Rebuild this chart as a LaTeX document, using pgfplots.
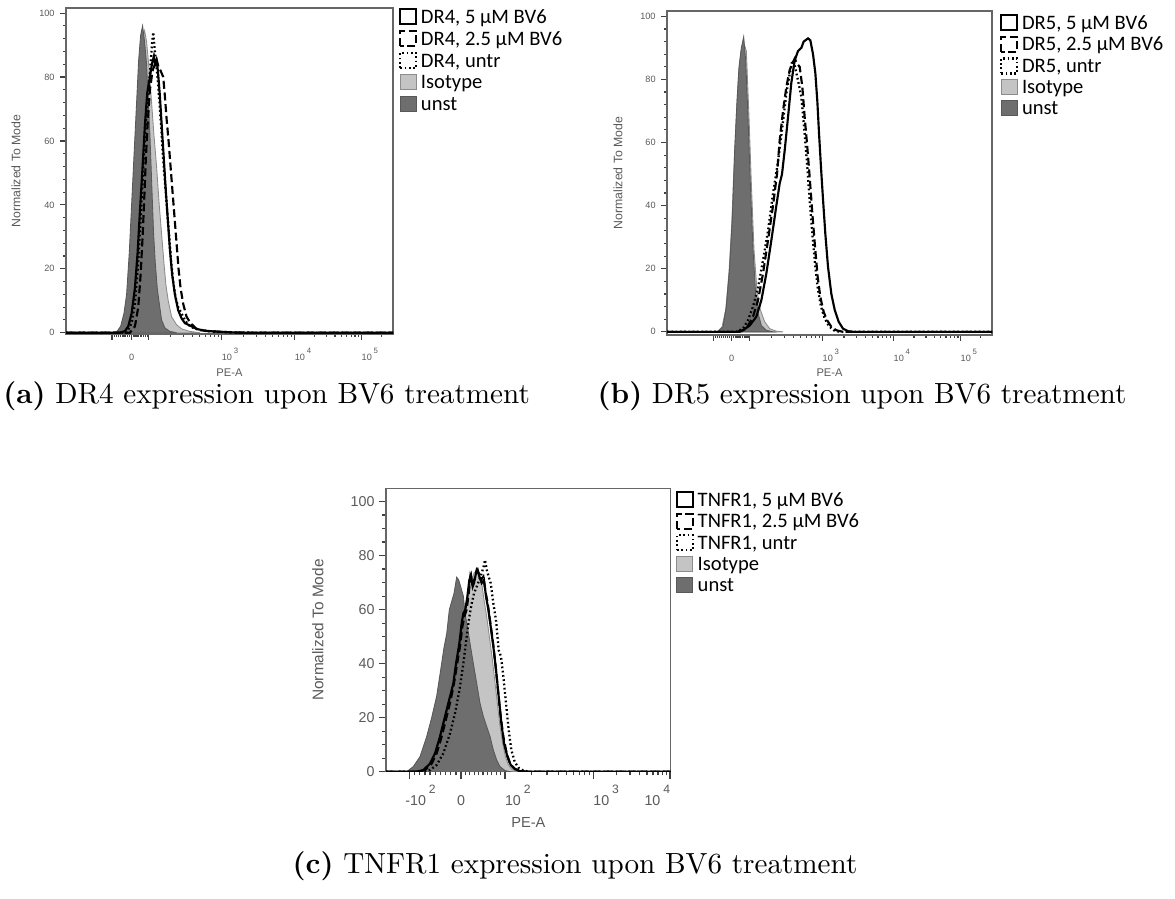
\documentclass[border=0pt]{standalone}
\usepackage{fontspec}
\usepackage{graphicx}
\usepackage{pgfplots}
\pgfplotsset{compat=1.18}
\newfontfamily\arial{Liberation Sans}
\newfontfamily\calibri{Carlito}
\definecolor{unstgray}{HTML}{6E6E6E}
\definecolor{isogray}{HTML}{C4C4C4}
\definecolor{isoedge}{HTML}{8C8C8C}
\definecolor{labgray}{HTML}{5A5A5A}

% decade labels as drawn by the cytometry software
\newcommand{\dec}[1]{\makebox[0pt][l]{10\hspace{0.2em}\raisebox{0.8em}{\scalebox{0.85}{#1}}}}
\newcommand{\decr}[1]{\makebox[0pt][r]{10\hspace{0.2em}\raisebox{0.8em}{\scalebox{0.85}{#1}}}}
\newcommand{\negdec}[1]{\makebox[0pt][l]{\hspace{-1.4pt}-10\hspace{0.2em}\raisebox{0.8em}{\scalebox{0.85}{#1}}}}

\tikzset{
  solidl/.style={black, line width=0.75pt},
  dashl/.style={black, line width=0.75pt, dash pattern=on 2.8pt off 1.3pt},
  dotl/.style={black, line width=0.8pt, dash pattern=on 0.6pt off 0.9pt},
  isof/.style={fill=isogray, draw=isoedge, line width=0.3pt},
  unstf/.style={fill=unstgray, draw=unstgray!80!black, line width=0.3pt},
}

\pgfplotsset{
  facs/.style={
    scale only axis,
    tick align=outside, xtick pos=bottom, ytick pos=left,
    axis line style={draw=black!60, line width=0.45pt},
    tick style={draw=black!75, line width=0.4pt},
    ytick={0,20,40,60,80,100},
    /pgf/number format/assume math mode=true,
    legend image code/.code={\draw[##1] (0pt,-2.2pt) rectangle (5.6pt,3.05pt);},
    legend cell align=left,
    legend style={draw=none, fill=none, inner sep=0pt, outer sep=0pt,
      anchor=north west, row sep=0.95pt, column sep=1.3pt,
      font=\calibri\fontsize{7.2}{8}\selectfont,
      nodes={inner sep=0pt, text height=5.2pt, text depth=1.4pt}},
  },
  smallfacs/.style={
    facs,
    major tick length=2pt, minor tick length=1pt,
    minor y tick num=4,
    yticklabel style={font=\arial\fontsize{3.2}{3.8}\selectfont, text=labgray, inner sep=0pt, anchor=east, xshift=-1.8pt},
    xticklabel style={font=\arial\fontsize{3.2}{3.8}\selectfont, text=labgray, inner sep=0pt, anchor=base, yshift=-7.3pt},
    xlabel style={font=\arial\fontsize{3.9}{4.5}\selectfont, text=labgray, anchor=center},
    ylabel style={font=\arial\fontsize{4.3}{5}\selectfont, text=labgray, anchor=center},
  },
}

\begin{document}
\begin{tikzpicture}
\useasboundingbox (0pt,0pt) rectangle (411.25pt,314.65pt);
\clip (0pt,0pt) rectangle (411.25pt,314.65pt);

% ---------------- (a) DR4 ----------------
\begin{axis}[smallfacs,
  at={(23.1pt,311.85pt)}, anchor=north west,
  width=114.45pt, height=114.1pt,
  xmin=0, xmax=982, ymin=-0.4, ymax=101.6,
  xtick={138,197,249,468,687,888},
  xticklabels={,0,,\dec{3},\dec{4},\dec{5}},
  minor xtick={145,151,158,164,171,177,184,190,202,207,213,218,223,228,233,239,244,315,353,381,402,419,434,447,458,534,572,600,621,638,653,666,677,747,783,808,827,843,857,868,879,948},
  xlabel={PE-A}, ylabel={Normalized To Mode},
  xlabel style={at={(axis description cs:0.5,-0.12)}},
  ylabel style={at={(axis description cs:-0.153,0.5)}},
  legend style={at={(axis description cs:1.0183,1.0)}},
]
\addplot[isof, forget plot] coordinates {(147,0) (160,0.5) (170,2) (180,6) (188,13) (196,27) (203,42) (210,57) (218,74) (224,85) (230,92) (236,94.5) (242,91) (250,82) (257,72) (264,62) (272,52) (280,40) (287,31) (294,22) (300,15) (307,10) (317,5) (332,2.5) (347,1.2) (372,0.4) (402,0)} \closedcycle;
\addplot[unstf, forget plot] coordinates {(142,0) (154,0.5) (164,2) (174,6) (182,12) (190,25) (197,40) (204,55) (212,72) (218,85) (224,93) (230,96) (236,91) (242,84) (246,75) (252,62) (258,45) (263,31) (268,22) (274,14) (279,10) (287,4) (297,1.5) (312,0.4) (332,0)} \closedcycle;
\addplot[dotl, forget plot] coordinates {(0,0) (182,0) (197,3) (207,9) (217,22) (225,37) (232,52) (240,66) (248,76) (254,84) (258,90) (262,94) (266,89) (270,85) (275,80) (280,73) (286,64) (292,54) (298,46) (304,38) (310,30) (316,22) (322,16) (329,11) (337,8) (347,6) (357,4) (367,2.5) (382,1.5) (402,0.8) (442,0.3) (502,0.1) (562,0) (982,0)};
\addplot[dashl, forget plot] coordinates {(0,0) (192,0) (207,2) (217,8) (224,18) (230,30) (235,42) (240,55) (245,65) (252,76) (260,82) (267,84) (272,85.5) (278,83) (284,82) (292,80) (297,74) (302,67) (308,60) (314,52) (320,44) (326,36) (332,28) (338,20) (344,14) (352,9) (362,5) (374,3) (392,1.2) (422,0.5) (502,0.1) (552,0) (982,0)};
\addplot[solidl, forget plot] coordinates {(0,0) (162,0) (177,0.5) (187,2) (197,6) (207,14) (215,25) (222,38) (230,52) (237,65) (244,75) (252,80) (258,84) (264,86.5) (268,84) (272,85) (276,82) (282,74) (288,64) (294,54) (300,44) (306,35) (312,26) (319,18) (327,12) (337,7) (347,4.5) (357,3) (367,2.5) (377,2) (392,1.2) (412,0.7) (442,0.4) (482,0.2) (522,0) (982,0)};
\addlegendimage{solidl}\addlegendentry{DR4, 5 µM BV6}
\addlegendimage{dashl}\addlegendentry{DR4, 2.5 µM BV6}
\addlegendimage{dotl}\addlegendentry{DR4, untr}
\addlegendimage{isof}\addlegendentry{Isotype}
\addlegendimage{unstf}\addlegendentry{unst}
\end{axis}

% ---------------- (b) DR5 ----------------
\begin{axis}[smallfacs,
  at={(233.45pt,310.8pt)}, anchor=north west,
  width=113.75pt, height=113.4pt,
  xmin=0, xmax=975, ymin=-1, ymax=101.7,
  xtick={140,194,248,467,680,881},
  xticklabels={,0,,\dec{3},\dec{4},\dec{5}},
  minor xtick={146,152,158,164,170,176,182,188,199,205,210,216,221,226,232,237,243,314,352,380,401,418,433,446,457,531,569,595,616,633,647,659,670,741,777,802,821,837,851,862,873,941},
  xlabel={PE-A}, ylabel={Normalized To Mode},
  xlabel style={at={(axis description cs:0.5,-0.117)}},
  ylabel style={at={(axis description cs:-0.151,0.5)}},
  legend style={at={(axis description cs:1.0246,0.99)}, row sep=0.8pt},
]
\addplot[isof, forget plot] coordinates {(150,0) (165,1.5) (176,7) (186,19) (194,34) (202,55) (209,71) (215,82) (222,89) (229,92) (238,89) (246,68) (253,47) (261,26) (270,13) (280,7) (293,3.2) (308,1) (328,0.2) (348,0)} \closedcycle;
\addplot[unstf, forget plot] coordinates {(153,0) (168,1.6) (178,8) (188,20.6) (196,36) (203,57.5) (210,73) (216,84) (223,90) (230,93.5) (236,86) (243,68) (250,47) (258,26) (266,12) (273,6) (283,2) (298,0.5) (318,0)} \closedcycle;
\addplot[dotl, forget plot] coordinates {(0,0) (208,0) (228,1) (243,3.7) (258,8) (273,14) (288,22.7) (303,32) (318,43.8) (333,54) (346,65) (358,75.5) (368,81.8) (376,86) (384,84) (393,79.7) (403,74.4) (413,62.8) (421,52) (428,41.7) (436,31) (444,21.6) (452,14) (462,8) (473,4.2) (486,1.8) (500,0.5) (518,0) (975,0)};
\addplot[dashl, forget plot] coordinates {(0,0) (218,0) (238,1) (258,4.8) (273,10) (288,18.5) (303,29) (318,40) (330,50) (338,60.7) (348,70) (358,77.6) (368,83) (378,85.5) (383,86.6) (390,85) (398,84) (406,77.6) (413,68) (420,59.7) (428,49) (436,37.5) (444,27) (452,17.4) (460,11) (470,6.3) (480,3.7) (493,1.6) (508,0.5) (528,0) (975,0)};
\addplot[solidl, forget plot] coordinates {(0,0) (208,0) (228,0.5) (248,2) (268,4.8) (283,10) (298,18.5) (313,29) (328,40) (338,47) (345,50) (353,57.5) (363,68) (373,79) (383,86) (393,89) (403,90) (410,92) (423,93) (430,92.4) (438,88) (445,82) (451,73) (456,63) (462,52) (468,42) (475,31) (483,20.6) (493,12) (503,7) (515,3.2) (528,1) (543,0.2) (558,0) (975,0)};
\addlegendimage{solidl}\addlegendentry{DR5, 5 µM BV6}
\addlegendimage{dashl}\addlegendentry{DR5, 2.5 µM BV6}
\addlegendimage{dotl}\addlegendentry{DR5, untr}
\addlegendimage{isof}\addlegendentry{Isotype}
\addlegendimage{unstf}\addlegendentry{unst}
\end{axis}

% ---------------- (c) TNFR1 ----------------
\begin{axis}[facs,
  at={(135.1pt,143.745pt)}, anchor=north west,
  width=99.65pt, height=99.19pt,
  xmin=0, xmax=854, ymin=0, ymax=104.9,
  major tick length=2.6pt, minor tick length=1.3pt,
  minor y tick num=3,
  xtick={70,225,357,622,852},
  xticklabels={\negdec{2},0,\dec{2},\dec{3},\decr{4}},
  minor xtick={86,101,117,132,148,163,179,194,210,238,251,265,278,291,304,317,331,344,437,483,517,542,563,581,596,610,691,732,760,783,801,816,830,842},
  yticklabel style={font=\arial\fontsize{5}{6}\selectfont, text=labgray, inner sep=0pt, anchor=east, xshift=-1.2pt},
  xticklabel style={font=\arial\fontsize{5}{6}\selectfont, text=labgray, inner sep=0pt, anchor=base, yshift=-9.2pt},
  xlabel={PE-A}, ylabel={Normalized To Mode},
  xlabel style={font=\arial\fontsize{5.1}{6}\selectfont, text=labgray, anchor=center, at={(axis description cs:0.5,-0.178)}},
  ylabel style={font=\arial\fontsize{5.4}{6}\selectfont, text=labgray, anchor=center, at={(axis description cs:-0.239,0.5)}},
  legend style={at={(axis description cs:1.0176,0.99)}, row sep=0.8pt},
]
\addplot[isof, forget plot] coordinates {(102,0) (122,1.2) (142,4.3) (162,10.5) (182,20.4) (197,27.8) (212,37.7) (224,47.5) (234,56) (242,62) (250,67) (257,71) (264,73.5) (272,74.7) (280,73.5) (287,69.8) (294,63.6) (302,57.4) (310,50) (318,42.6) (326,34) (334,25.3) (342,16.7) (350,10.5) (358,5.6) (367,2.5) (377,0.9) (392,0)} \closedcycle;
\addplot[unstf, forget plot] coordinates {(62,0) (82,1.9) (102,5.6) (122,13) (137,20) (152,28) (164,37.7) (174,46) (182,51) (190,60) (197,63) (204,66) (212,72) (218,71) (224,68.5) (232,65) (237,58.6) (244,53.7) (252,47.5) (262,40) (272,32.7) (282,25.3) (292,20.4) (302,16.7) (312,13) (322,8) (332,4.3) (342,1.9) (357,0.4) (372,0)} \closedcycle;
\addplot[dotl, forget plot] coordinates {(0,0) (112,0) (132,0.6) (152,2.5) (172,6.8) (192,14.2) (207,21.6) (220,30) (232,40) (242,50) (250,57.4) (257,62.3) (264,66) (272,68.5) (280,71) (287,73.5) (293,76) (297,78.4) (302,74.7) (308,72.2) (314,69.8) (322,62.3) (330,56) (338,45) (345,42.6) (352,35.2) (360,25.3) (368,15.4) (376,8) (386,3.7) (397,1.5) (412,0.4) (432,0) (854,0)};
\addplot[dashl, forget plot] coordinates {(0,0) (97,0) (117,0.6) (137,3) (152,6.8) (167,13) (182,20.4) (194,26.5) (204,32.7) (212,38.9) (222,46.3) (229,53.7) (235,57.4) (242,60) (248,66) (253,72.2) (258,69.8) (265,71) (272,74.7) (278,73.5) (285,71) (292,72.2) (298,67) (305,62.3) (312,56) (320,48.8) (328,40) (336,30) (344,20.4) (352,13) (362,6.8) (372,3) (385,1.2) (402,0.2) (422,0) (854,0)};
\addplot[solidl, forget plot] coordinates {(0,0) (92,0) (112,0.6) (132,3) (147,6.8) (162,13) (177,20.4) (192,27.8) (202,32.7) (210,40) (220,47.5) (227,55) (232,58.6) (238,60) (244,64.8) (250,71) (255,72.8) (260,68.5) (264,69.8) (270,73.5) (275,74.7) (280,72.2) (287,69.8) (294,71) (300,64.8) (307,60) (314,53.7) (322,46.3) (330,37.7) (338,27.8) (346,17.9) (354,10.5) (364,5.6) (374,2.5) (387,0.9) (402,0.2) (422,0) (854,0)};
\addlegendimage{solidl}\addlegendentry{TNFR1, 5 µM BV6}
\addlegendimage{dashl}\addlegendentry{TNFR1, 2.5 µM BV6}
\addlegendimage{dotl}\addlegendentry{TNFR1, untr}
\addlegendimage{isof}\addlegendentry{Isotype}
\addlegendimage{unstf}\addlegendentry{unst}
\end{axis}

% ---------------- captions ----------------
\node[anchor=base, font=\fontsize{10.2}{12}\selectfont] at (93.3pt,173.25pt) {\textbf{(a)} DR4 expression upon BV6 treatment};
\node[anchor=base, font=\fontsize{10.2}{12}\selectfont] at (301.7pt,173.25pt) {\textbf{(b)} DR5 expression upon BV6 treatment};
\node[anchor=base, font=\fontsize{10.2}{12}\selectfont] at (201.25pt,8.9pt) {\textbf{(c)} TNFR1 expression upon BV6 treatment};
\end{tikzpicture}
\end{document}
